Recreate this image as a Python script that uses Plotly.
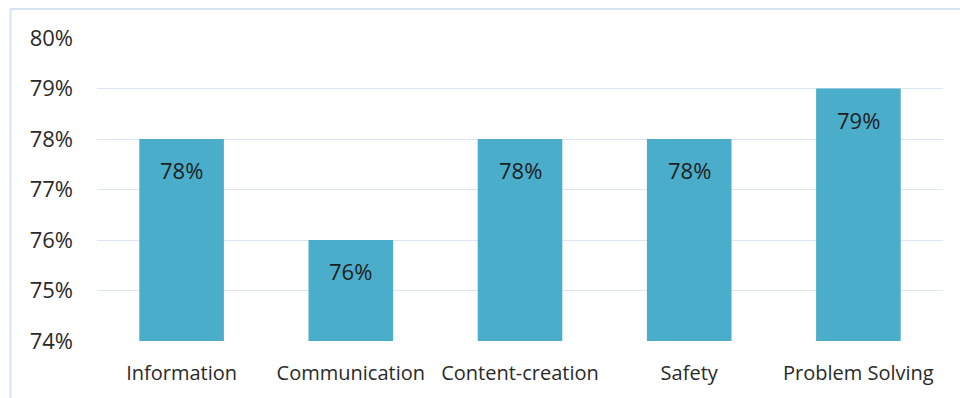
import plotly.graph_objects as go

categories = ["Information", "Communication", "Content-creation", "Safety", "Problem Solving"]
values = [78, 76, 78, 78, 79]
labels = ["78%", "76%", "78%", "78%", "79%"]
y_ticks = [74, 75, 76, 77, 78, 79, 80]

W, H = 960, 398
L, R, T, B = 97, 17, 38, 57
pw, ph = W - L - R, H - T - B

fig = go.Figure()
fig.add_trace(go.Bar(
    x=categories, y=values, width=0.5,
    marker=dict(color="#4aadca", line=dict(width=0)),
    hoverinfo="skip",
))

for c, v, lab in zip(categories, values, labels):
    fig.add_annotation(x=c, y=v, text=lab, showarrow=False, yanchor="middle",
                       yshift=-31, font=dict(family="Open Sans, Noto Sans", size=22, color="#1e1e1e"))

border = "#d5e3f3"
def px_x(p):
    return (p - L) / pw
def px_y(p):
    return (H - B - p) / ph

fig.add_shape(type="line", xref="paper", yref="paper",
              x0=px_x(10), x1=px_x(962), y0=px_y(9), y1=px_y(9),
              line=dict(color=border, width=2))
fig.add_shape(type="line", xref="paper", yref="paper",
              x0=px_x(10.5), x1=px_x(10.5), y0=px_y(9), y1=px_y(400),
              line=dict(color=border, width=2))

fig.update_layout(
    width=W, height=H,
    margin=dict(l=L, r=R, t=T, b=B),
    paper_bgcolor="white", plot_bgcolor="white",
    showlegend=False,
    font=dict(family="Open Sans, Noto Sans", color="#2a2a2a"),
    bargap=0.5,
)
fig.update_yaxes(range=[74, 80], tickvals=y_ticks, ticktext=[f"{t}%" for t in y_ticks],
                 showgrid=True, gridcolor="#dbe6f2", gridwidth=1, zeroline=False,
                 showline=False, ticks="", ticklabelstandoff=23,
                 tickfont=dict(size=22, color="#2a2a2a"))
fig.update_xaxes(showgrid=False, showline=False, ticks="", ticklabelstandoff=18,
                 tickfont=dict(size=20, color="#2a2a2a"))

fig.write_html("out.html")
